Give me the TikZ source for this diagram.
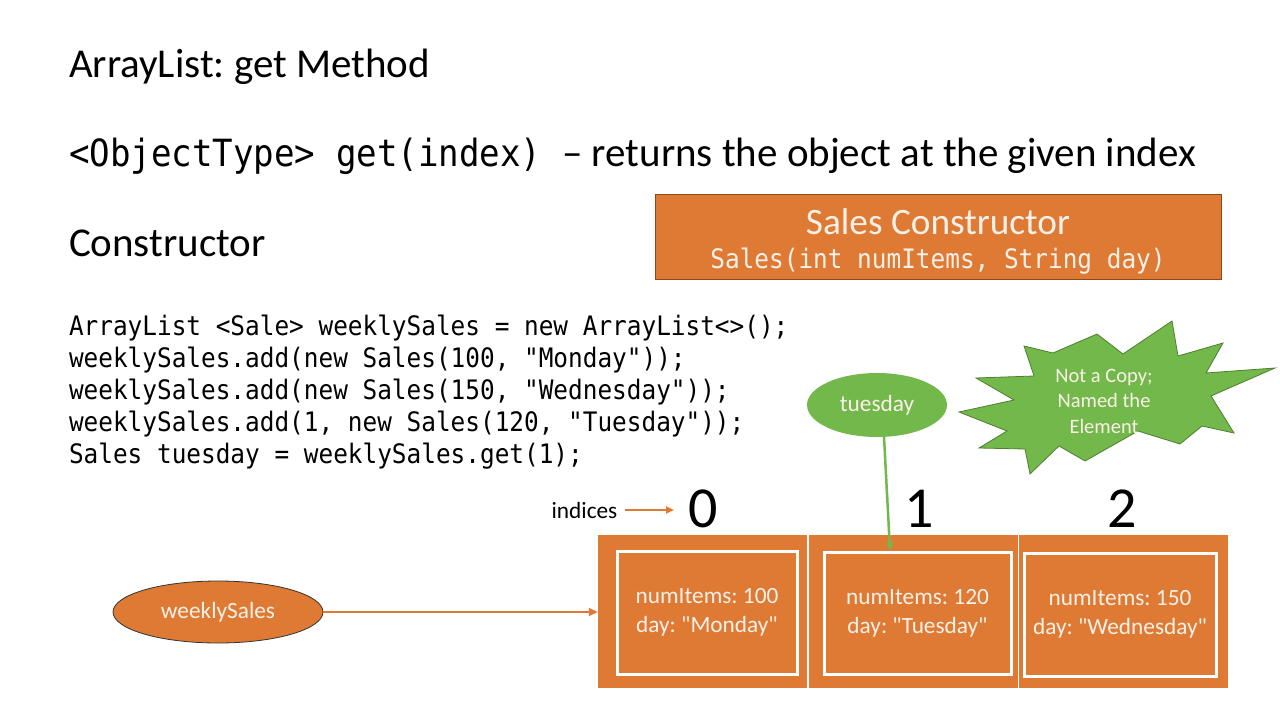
\documentclass[tikz,border=0pt]{standalone}
\usepackage{fontspec}
\setmainfont{Carlito}
\newfontfamily\calfont{Carlito}
\newfontfamily\codefont{DejaVu Sans Mono}[FakeStretch=0.91]
\usetikzlibrary{arrows.meta,shapes.geometric}
\frenchspacing
\definecolor{orng}{HTML}{DF7A35}
\definecolor{orngdark}{HTML}{8A4A1E}
\definecolor{grn}{HTML}{72B84A}
\definecolor{grndark}{HTML}{4F7F30}
\definecolor{lighttext}{HTML}{FBF1E8}
\tikzset{
  plain/.style={inner sep=0pt, outer sep=0pt, anchor=base west, text=black},
  codeline/.style={plain, font=\codefont\fontsize{26.8}{32}\selectfont},
  cell/.style={fill=orng, draw=none, minimum width=209pt, minimum height=153pt, inner sep=0pt},
  innerbox/.style={draw=white, line width=3pt, inner sep=0pt, align=center,
    text=lighttext, font=\calfont\fontsize{23.3}{29}\selectfont},
  bignum/.style={inner sep=0pt, text=black, font=\calfont\fontsize{58}{58}\selectfont},
  oval/.style={ellipse, inner sep=0pt, text=lighttext, font=\calfont\fontsize{23.3}{23}\selectfont},
  orarrow/.style={draw=orng, line width=2pt, -{Triangle[length=9pt,width=8pt]}},
}
\begin{document}
\frenchspacing
\begin{tikzpicture}[x=1pt,y=-1pt]
\useasboundingbox (0,0) rectangle (1280,720);
\fill[white] (0,0) rectangle (1280,720);

% headings
\node[plain, font=\calfont\fontsize{41}{41}\selectfont] (title) at (69,77) {ArrayList: get Method};
\node[plain, font=\calfont\fontsize{41}{41}\selectfont] (sig) at (69,166)
  {{\codefont\fontsize{37.5}{37.5}\selectfont <ObjectType> get(index) }– returns the object at the given index};
\node[plain, font=\calfont\fontsize{41}{41}\selectfont] (ctor) at (69,256) {Constructor};

% code
\node[codeline] (c1) at (69,335) {ArrayList <Sale> weeklySales = new ArrayList<>();};
\node[codeline] (c2) at (69,367) {weeklySales.add(new Sales(100, "Monday"));};
\node[codeline] (c3) at (69,399) {weeklySales.add(new Sales(150, "Wednesday"));};
\node[codeline] (c4) at (69,431) {weeklySales.add(1, new Sales(120, "Tuesday"));};
\node[codeline] (c5) at (69,463) {Sales tuesday = weeklySales.get(1);};

% Sales constructor box
\node[fill=orng, draw=orngdark, line width=0.8pt, minimum width=566pt, minimum height=85pt, inner sep=0pt] (sbox) at (938,236.5) {};
\node[inner sep=0pt, anchor=base, text=lighttext, font=\calfont\fontsize{37.3}{37}\selectfont] (stitle) at (938,234) {Sales Constructor};
\node[inner sep=0pt, anchor=base, text=lighttext, font=\codefont\fontsize{26.8}{26.8}\selectfont] (ssig) at (938,268) {Sales(int numItems, String day)};

% array cells
\node[cell] (cell0) at (702.5,611.5) {};
\node[cell] (cell1) at (913,611.5) {};
\node[cell] (cell2) at (1123.5,611.5) {};
\node[innerbox, minimum width=180pt, minimum height=123pt] (in0) at (707,612.5) {numItems: 100\\day: "Monday"};
\node[innerbox, minimum width=187pt, minimum height=122pt] (in1) at (917.5,613) {numItems: 120\\day: "Tuesday"};
\node[innerbox, minimum width=192pt, minimum height=123pt] (in2) at (1120,614.5) {numItems: 150\\day: "Wednesday"};

% indices
\node[bignum] (i0) at (703,509) {0};
\node[bignum] (i1) at (919,509) {1};
\node[bignum] (i2) at (1122,509) {2};
\node[inner sep=0pt, text=black, font=\calfont\fontsize{23.3}{23}\selectfont] (ind) at (584.5,510) {indices};
\coordinate (indend) at (674,510);
\draw[orng, line width=2pt, -{Triangle[length=8pt,width=7pt]}] (ind.east) ++(7,0) -- (indend);

% weeklySales reference
\node[oval, fill=orng, draw=black!80, line width=0.8pt, minimum width=210pt, minimum height=62pt] (ws) at (218,612) {weeklySales};
\draw[orarrow] (ws.east) -- (cell0.west |- ws.east);

% tuesday reference
\node[oval, fill=grn, minimum width=140pt, minimum height=64pt] (tu) at (877,405) {tuesday};
\coordinate (tuend) at (890,550);
\draw[grn, line width=2.5pt, -{Triangle[length=7pt,width=7pt]}] (884,437) -- (tuend);

% starburst note
\filldraw[fill=grn, draw=grndark, line width=0.8pt]
  (1172,321) -- (1178,356) -- (1223,343) -- (1206,373) -- (1275,368) -- (1211,396)
  -- (1234,433) -- (1202,426) -- (1180,444) -- (1138,431) -- (1085,461) -- (1059,446)
  -- (1030,474) -- (1025,449) -- (979,448) -- (1007,431) -- (959,412) -- (1014,400)
  -- (976,378) -- (1034,376) -- (1024,346) -- (1053,353) -- (1097,334) -- (1123,354) -- cycle;
\node[inner sep=0pt, align=center, text=lighttext, font=\calfont\fontsize{20.5}{25.5}\selectfont] (note) at (1104,401) {Not a Copy;\\Named the\\Element};
\end{tikzpicture}
\end{document}
